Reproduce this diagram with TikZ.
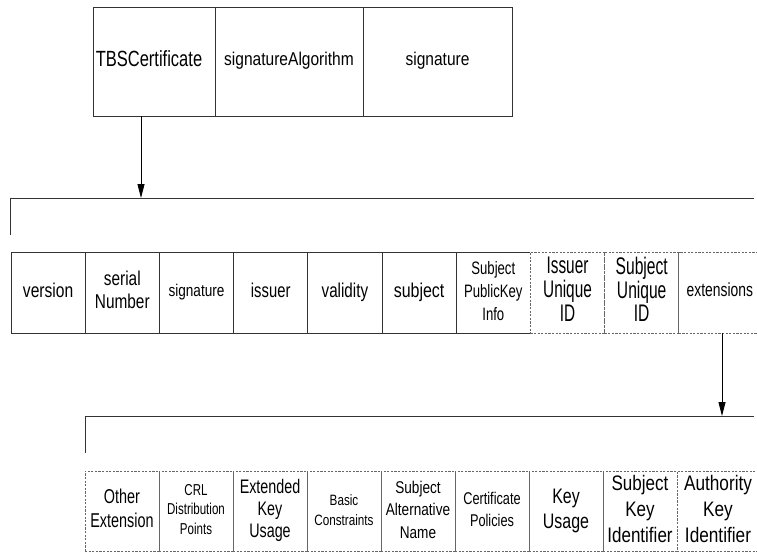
\documentclass[tikz,border=0pt]{standalone}
\usepackage{fontspec}
\setmainfont{Liberation Sans}
\usepackage{graphicx}
\usetikzlibrary{arrows.meta}

% narrow, centred multi-line label: #1 horizontal scale, #2 size, #3 line pitch, #4 text
\newcommand{\lbl}[4]{\scalebox{#1}[1]{\fontsize{#2pt}{#3pt}\selectfont\begin{tabular}{@{}c@{}}#4\end{tabular}}}

\tikzset{
  cellbase/.style={anchor=north west, inner sep=0pt, outer sep=0pt, text=black},
  solidcell/.style={cellbase, draw=black!80, line width=0.9pt},
  dashcell/.style={cellbase, draw=black!60, line width=0.8pt, dash pattern=on 2.2pt off 1.4pt},
  topcell/.style={solidcell, minimum height=109pt},
  midcell/.style={minimum width=74.2pt, minimum height=81pt},
  lowcell/.style={dashcell, minimum width=74pt, minimum height=80pt},
  bracket/.style={draw=black!80, line width=0.9pt},
  arrowline/.style={draw=black, line width=0.9pt, -{Triangle[length=14pt,width=7pt]}},
}

\begin{document}
\begin{tikzpicture}[x=1pt, y=-1pt]
\useasboundingbox (0,0) rectangle (757,552);
\clip (0,0) rectangle (757,552);

% certificate
\node[topcell, minimum width=122pt] (tbs) at (93,7) {\hspace*{-10pt}\lbl{0.75}{22}{24}{TBSCertificate}};
\node[topcell, minimum width=148pt] (sigalg) at (215,7) {\lbl{0.84}{18.5}{21}{signatureAlgorithm}};
\node[topcell, minimum width=149pt] (sigval) at (363,7) {\lbl{0.84}{18.5}{21}{signature}};

% TBSCertificate fields
\node[solidcell, midcell] (ver) at (11,252) {\lbl{0.78}{20}{23}{version}};
\node[solidcell, midcell] (serial) at (85.2,252) {\lbl{0.77}{20}{23}{serial\\Number}};
\node[solidcell, midcell] (sig) at (159.4,252) {\lbl{0.8}{17}{21}{signature}};
\node[solidcell, midcell] (iss) at (233.6,252) {\lbl{0.74}{20}{23}{issuer}};
\node[solidcell, midcell] (valid) at (307.8,252) {\lbl{0.76}{20}{23}{validity}};
\node[solidcell, midcell] (subj) at (382,252) {\lbl{0.8}{20}{23}{subject}};
\node[cellbase, midcell] (spki) at (456.2,252) {\lbl{0.73}{18}{23}{Subject\\PublicKey\\Info}};
\draw[draw=black!80, line width=0.9pt] (spki.north east) -- (spki.north west) -- (spki.south west) -- (spki.south east);
\node[dashcell, midcell] (iuid) at (530.4,252) {\lbl{0.64}{24}{22.5}{Issuer\\Unique\\ID}};
\node[dashcell, midcell] (suid) at (604.6,252) {\lbl{0.65}{24}{22.5}{Subject\\Unique\\ID}};
\node[dashcell, midcell, minimum width=82pt] (ext) at (678.8,252) {\lbl{0.73}{19}{22}{extensions}};

% extensions
\node[lowcell] (other) at (85,471) {\lbl{0.72}{20}{24}{Other\\Extension}};
\node[lowcell] (crl) at (159,471) {\lbl{0.73}{15.8}{19.7}{CRL\\Distribution\\Points}};
\node[lowcell] (eku) at (233,471) {\lbl{0.73}{19.6}{22}{Extended\\Key\\Usage}};
\node[lowcell] (basic) at (307,471) {\lbl{0.78}{15}{20}{Basic\\Constraints}};
\node[lowcell] (san) at (381,471) {\lbl{0.8}{17}{22.5}{Subject\\Alternative\\Name}};
\node[lowcell] (pol) at (455,471) {\lbl{0.75}{17}{21.7}{Certificate\\Policies}};
\node[lowcell] (ku) at (529,471) {\lbl{0.76}{21}{25}{Key\\Usage}};
\node[lowcell] (ski) at (603,471) {\lbl{0.81}{21}{26}{Subject\\Key\\Identifier}};
\node[lowcell, minimum width=82pt] (aki) at (677,471) {\lbl{0.82}{21}{26}{Authority\\Key\\Identifier}};

% brackets
\coordinate (b1) at (141,198);
\coordinate (b1l) at (10,235);
\coordinate (b1c) at (10,198);
\coordinate (b1r) at (754,198);
\draw[bracket] (b1l) -- (b1c) -- (b1r);
\coordinate (b2) at (722,416);
\coordinate (b2l) at (85,453);
\coordinate (b2c) at (85,416);
\coordinate (b2r) at (754,416);
\draw[bracket] (b2l) -- (b2c) -- (b2r);

% expansions
\draw[arrowline] (tbs.south -| b1) -- (b1);
\draw[arrowline] (ext.south -| b2) -- (b2);
\end{tikzpicture}
\end{document}
